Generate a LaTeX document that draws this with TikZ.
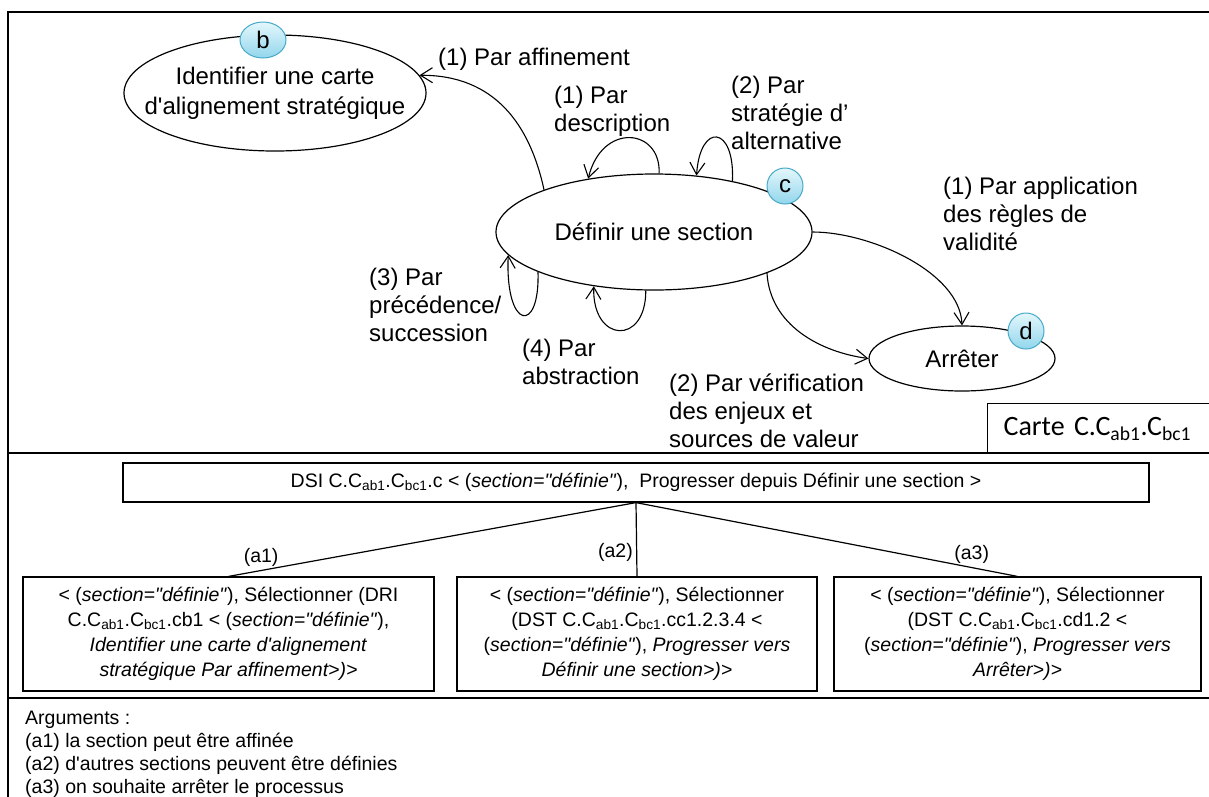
\documentclass[tikz,border=0pt]{standalone}
\usepackage{fontspec}
\newfontfamily\arialf{Liberation Sans}
\newfontfamily\calibrif{Carlito}
\usetikzlibrary{arrows.meta, shapes.geometric}

\definecolor{etiqhaut}{RGB}{228,247,252}
\definecolor{etiqbas}{RGB}{146,214,236}
\definecolor{etiqbord}{RGB}{70,170,200}

\tikzset{
  intention/.style={draw, ellipse, inner sep=0pt, line width=1.2pt,
    font=\arialf\fontsize{24}{30}\selectfont},
  texte/.style={align=center, font=\arialf\fontsize{24}{30}\selectfont},
  etiq/.style={draw=etiqbord, ellipse, line width=1pt, top color=etiqhaut,
    bottom color=etiqbas, minimum width=36pt, minimum height=36pt,
    inner sep=0pt, font=\arialf\fontsize{24}{24}\selectfont},
  strat/.style={align=left, anchor=base west, inner sep=0pt,
    font=\arialf\fontsize{24}{28}\selectfont},
  fleche/.style={-{Straight Barb[length=12pt, width=15pt]}, line width=1.1pt},
  cadre/.style={draw, line width=1.2pt, align=center, inner sep=0pt,
    font=\arialf\fontsize{19.5}{25}\selectfont},
  argu/.style={font=\arialf\fontsize{19.5}{23}\selectfont},
}

\begin{document}
\begin{tikzpicture}[x=1pt, y=-1pt]
  \useasboundingbox (0,0) rectangle (1209,796);
  % cadre de la figure (coupe a droite et en bas)
  \draw[line width=1.3pt] (8,820) -- (8,12) -- (1230,12);
  \draw[line width=1.3pt] (8,453) -- (1230,453);
  \draw[line width=1.3pt] (8,698) -- (1230,698);

  % carte : intentions
  \node[intention, minimum width=302pt, minimum height=116pt,
    label={[texte]center:Identifier une carte\\d'alignement stratégique}] (identifier) at (275,93) {};
  \node[intention, minimum width=316pt, minimum height=116pt] (definir) at (654,232) {Définir une section};
  \node[intention, minimum width=186pt, minimum height=65pt] (arreter) at (962,358.5) {Arrêter};

  % strategies
  \draw[fleche] (definir.159) .. controls (530,125) and (495,75) .. (identifier.7);
  \draw[fleche] (definir.85) .. controls (661,128) and (602,122) .. (definir.141);
  \draw[fleche] (definir.33) .. controls (735,125) and (700,122) .. (definir.53);
  \draw[fleche] (definir.199) .. controls (540,335) and (505,330) .. (definir.189);
  \draw[fleche] (definir.262) .. controls (646,346) and (592,343) .. (definir.222);
  \draw[fleche] (definir.east) .. controls (870,232) and (960,272) .. (arreter.north);
  \draw[fleche] (definir.340) .. controls (770,325) and (820,352) .. (arreter.west);

  % pastilles b, c, d
  \node[etiq, minimum width=46pt] (eb) at (263,40) {b};
  \node[etiq] (ec) at (785,186) {c};
  \node[etiq] (ed) at (1026,331) {d};

  % noms des strategies (ancre = ligne de base de la derniere ligne)
  \node[strat] (saff) at (438,65) {(1) Par affinement};
  \node[strat] (sdesc) at (554,131) {(1) Par\\description};
  \node[strat] (salt) at (731,149) {(2) Par\\stratégie d’\\alternative};
  \node[strat] (sval) at (943,250) {(1) Par application\\des règles de\\validité};
  \node[strat] (sprec) at (369,341) {(3) Par\\précédence/\\succession};
  \node[strat] (sabs) at (522,384) {(4) Par\\abstraction};
  \node[strat] (sverif) at (669,447) {(2) Par vérification\\des enjeux et\\sources de valeur};

  \node[anchor=north west, draw, line width=1.2pt, minimum height=50pt, text width=204pt,
    inner xsep=16pt, align=left, font=\calibrif\fontsize{28}{30}\selectfont] (carte) at (987,403)
    {Carte C.C\textsubscript{ab1}.C\textsubscript{bc1}};

  % section et selections
  \node[cadre, minimum width=1026pt, minimum height=39pt] (dsi) at (636,482.5)
    {DSI C.C\textsubscript{ab1}.C\textsubscript{bc1}.c < (\textit{section="définie"}), \ Progresser depuis Définir une section >};
  \node[cadre, minimum width=411pt, minimum height=114pt] (sel1) at (228.5,634)
    {< (\textit{section="définie"}), Sélectionner (DRI\\
     C.C\textsubscript{ab1}.C\textsubscript{bc1}.cb1 < (\textit{section="définie"}),\\
     \textit{Identifier une carte d'alignement}\\
     \textit{stratégique Par affinement>)>}};
  \node[cadre, minimum width=360pt, minimum height=114pt] (sel2) at (637,634)
    {< (\textit{section="définie"}), Sélectionner\\
     (DST C.C\textsubscript{ab1}.C\textsubscript{bc1}.cc1.2.3.4 <\\
     (\textit{section="définie"}), \textit{Progresser vers}\\
     \textit{Définir une section>)>}};
  \node[cadre, minimum width=367pt, minimum height=114pt] (sel3) at (1017.5,634)
    {< (\textit{section="définie"}), Sélectionner\\
     (DST C.C\textsubscript{ab1}.C\textsubscript{bc1}.cd1.2 <\\
     (\textit{section="définie"}), \textit{Progresser vers}\\
     \textit{Arrêter>)>}};
  \draw[line width=1.2pt] (dsi.south) -- node[argu, pos=0.92, above] (a1) {(a1)} (sel1.north);
  \draw[line width=1.2pt] (dsi.south) -- node[argu, pos=0.68, left] (a2) {(a2)} (sel2.north);
  \draw[line width=1.2pt] (dsi.south) -- node[argu, pos=0.88, above] (a3) {(a3)} (sel3.north);

  % arguments
  \node[argu, anchor=base west, align=left, inner sep=0pt] (args) at (25,793)
    {Arguments :\\(a1) la section peut être affinée\\(a2) d'autres sections peuvent être définies\\(a3) on souhaite arrêter le processus};
\end{tikzpicture}
\end{document}
